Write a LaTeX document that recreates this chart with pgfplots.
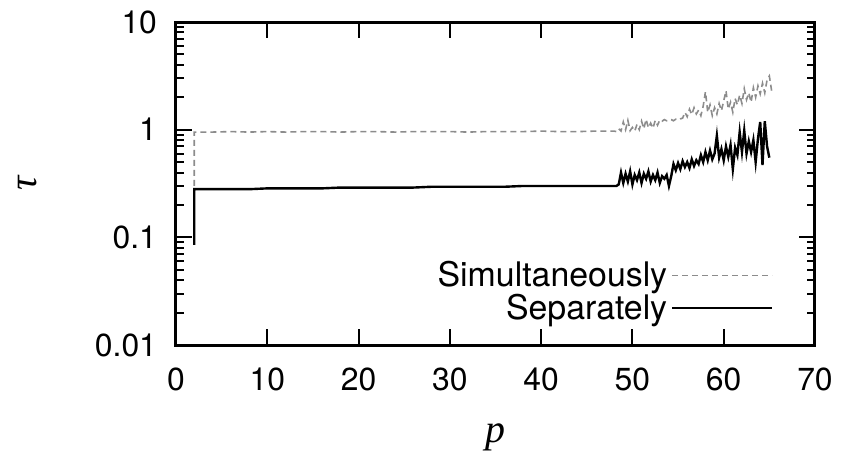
\documentclass[border=0pt]{standalone}
\usepackage{pgfplots}
\pgfplotsset{compat=1.18}
\usepackage{fontspec}
\setmainfont{TeX Gyre Heros}
\newfontfamily\seriffont{Liberation Serif}
\pgfplotstableread{
p tau
2 0.30
2 0.95
4 0.95
6 0.96
8 0.95
10 0.96
12 0.95
14 0.96
16 0.96
18 0.95
20 0.96
22 0.96
24 0.95
26 0.96
28 0.96
30 0.96
32 0.95
34 0.96
36 0.96
38 0.96
40 0.97
42 0.96
44 0.96
46 0.97
48.0 0.97
48.25 0.96
48.5 1.02
48.75 0.97
49.0 1.18
49.25 1.00
49.5 1.22
49.75 0.98
50.0 1.05
50.25 0.97
50.5 1.12
50.75 1.00
51.0 1.20
51.25 1.02
51.5 1.25
51.75 1.04
52.0 1.15
52.25 1.03
52.5 1.22
52.75 1.10
53.0 1.23
53.25 1.20
53.5 1.24
53.75 1.21
54.0 1.22
54.25 1.24
54.5 1.21
54.75 1.25
55.0 1.23
55.25 1.26
55.5 1.28
55.75 1.45
56.0 1.32
56.25 1.55
56.5 1.38
56.75 1.60
57.0 1.40
57.25 1.52
57.5 1.35
57.75 1.65
58.0 2.25
58.25 1.45
58.5 1.70
58.75 1.35
59.0 1.60
59.25 1.40
59.5 1.75
59.75 1.50
60.0 1.85
60.25 2.30
60.5 1.55
60.75 1.80
61.0 1.45
61.25 1.95
61.5 1.70
61.75 2.10
62.0 1.75
62.25 2.40
62.5 1.90
62.75 2.20
63.0 1.80
63.25 2.45
63.5 2.00
63.75 2.55
64.0 2.15
64.25 2.70
64.5 2.20
64.75 2.90
65.0 3.15
65.25 2.30
}\datasimul
\pgfplotstableread{
p tau
2 0.085
2 0.28
4 0.28
6 0.28
8 0.28
10 0.285
12 0.285
14 0.285
16 0.285
18 0.29
20 0.29
22 0.29
24 0.29
26 0.29
28 0.295
30 0.295
32 0.295
34 0.295
36 0.295
38 0.30
40 0.30
42 0.30
44 0.30
46 0.30
48.0 0.30
48.25 0.30
48.5 0.31
48.75 0.40
49.0 0.32
49.25 0.39
49.5 0.33
49.75 0.41
50.0 0.31
50.25 0.38
50.5 0.34
50.75 0.40
51.0 0.32
51.25 0.39
51.5 0.35
51.75 0.41
52.0 0.33
52.25 0.38
52.5 0.34
52.75 0.40
53.0 0.32
53.25 0.37
53.5 0.35
53.75 0.38
54.0 0.30
54.25 0.37
54.5 0.48
54.75 0.42
55.0 0.49
55.25 0.43
55.5 0.51
55.75 0.45
56.0 0.50
56.25 0.44
56.5 0.53
56.75 0.46
57.0 0.52
57.25 0.48
57.5 0.58
57.75 0.50
58.0 0.62
58.25 0.52
58.5 0.64
58.75 0.53
59.0 0.60
59.25 0.88
59.5 0.55
59.75 0.66
60.0 0.52
60.25 0.70
60.5 0.56
60.75 0.72
61.0 0.43
61.25 0.68
61.5 0.58
61.75 0.95
62.0 0.62
62.25 0.98
62.5 0.60
62.75 0.78
63.0 0.62
63.25 0.80
63.5 0.50
63.75 0.82
64.0 1.18
64.25 0.47
64.5 1.20
64.75 0.70
65.0 0.55
}\datasepar
\begin{document}
\begin{tikzpicture}
\begin{axis}[
  scale only axis, width=319.5bp, height=161.5bp,
  xmin=0, xmax=70, ymode=log, ymin=0.01, ymax=10,
  xtick={0,10,20,30,40,50,60,70},
  xticklabels={0,10,20,30,40,50,60,70},
  ytick={0.01,0.1,1,10}, yticklabels={0.01,0.1,1,10},
  major tick length=8bp, minor tick length=4bp,
  axis line style={line width=1.5bp},
  tick style={line width=1bp, black},
  tick label style={font=\fontsize{16}{18}\selectfont},
  xticklabel style={yshift=-8bp},
  yticklabel style={xshift=-6bp},
  xlabel={\seriffont\itshape p},
  ylabel={\seriffont\itshape τ},
  every axis label/.append style={font=\fontsize{20}{22}\selectfont},
  xlabel style={at={(axis description cs:0.5,-0.285)}, anchor=center},
  ylabel style={at={(axis description cs:-0.232,0.5)}, anchor=center},
  legend plot pos=right,
  legend cell align=right,
  legend image code/.code={\draw[#1] (0bp,0bp) -- (50bp,0bp);},
  legend style={draw=none, fill=none, at={(rel axis cs:0.945,0.045)}, anchor=south east,
    row sep=-2bp, font=\fontsize{17}{19}\selectfont},
]
\addplot[black!45, line width=0.8bp, dash pattern=on 3bp off 2bp] table[x=p,y=tau] {\datasimul};
\addlegendentry{Simultaneously}
\addplot[black, line width=1.2bp] table[x=p,y=tau] {\datasepar};
\addlegendentry{Separately}
\end{axis}
\path (current axis.south west) ++(-88bp,-54.5bp) rectangle ++(422.5bp,227bp);
\end{tikzpicture}
\end{document}
